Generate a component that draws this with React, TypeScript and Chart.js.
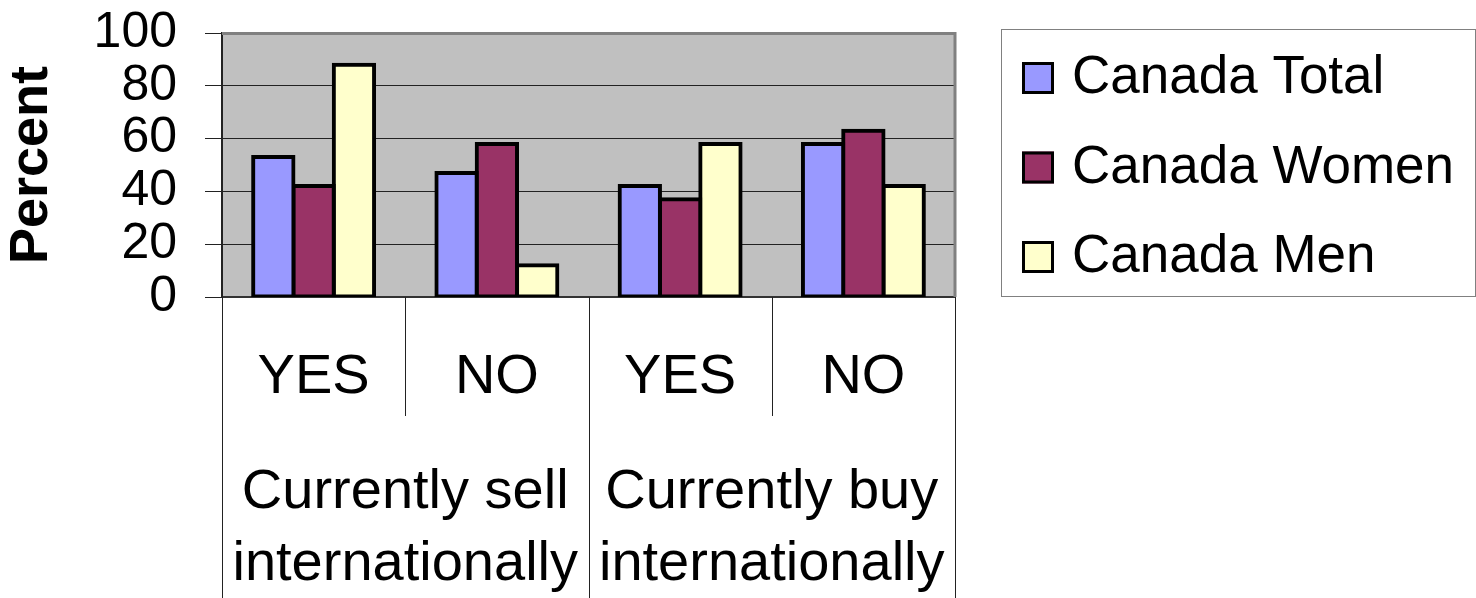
import React, { useEffect, useRef } from "react";
import { Chart, registerables } from "chart.js";

Chart.register(...registerables);

// ---------- data ----------
const categories = ["YES", "NO", "YES", "NO"];
const groupLabels = [
  ["Currently sell", "internationally"],
  ["Currently buy", "internationally"],
];
const groupSizes = [2, 2];
const seriesNames = ["Canada Total", "Canada Women", "Canada Men"];
const canadaTotal = [53, 47, 42, 58];
const canadaWomen = [42, 58, 37, 63];
const canadaMen = [88, 12, 58, 42];
const seriesColors = ["#9999FF", "#993366", "#FFFFCC"];
const yTickValues = [0, 20, 40, 60, 80, 100];
const yTitle = "Percent";

const FONT = "'Liberation Sans', Arial, Helvetica, sans-serif";

const plotBackground = {
  id: "plotBackground",
  beforeDraw(chart: any) {
    const { ctx, chartArea } = chart;
    ctx.save();
    ctx.fillStyle = "#C0C0C0";
    ctx.fillRect(chartArea.left, chartArea.top, chartArea.right - chartArea.left, chartArea.bottom - chartArea.top);
    ctx.restore();
  },
};

const plotFrame = {
  id: "plotFrame",
  afterDatasetsDraw(chart: any) {
    const { ctx, chartArea } = chart;
    ctx.save();
    ctx.strokeStyle = "#808080";
    ctx.lineWidth = 3;
    ctx.beginPath();
    ctx.moveTo(chartArea.left, chartArea.top + 0.5);
    ctx.lineTo(chartArea.right, chartArea.top + 0.5);
    ctx.lineTo(chartArea.right, chartArea.bottom);
    ctx.stroke();
    ctx.restore();
  },
};

const multiLevelAxis = {
  id: "multiLevelAxis",
  afterDraw(chart: any) {
    const { ctx, chartArea } = chart;
    const xs = chart.scales.x;
    const n = categories.length;
    const w = (xs.right - xs.left) / n;
    const bottom = chartArea.bottom;
    const groupBounds: number[] = [0];
    let acc = 0;
    groupSizes.forEach((s) => {
      acc += s;
      groupBounds.push(acc);
    });
    ctx.save();
    ctx.strokeStyle = "#222";
    ctx.lineWidth = 1;
    for (let i = 0; i <= n; i++) {
      const px = Math.round(xs.left + i * w) + 0.5;
      const isGroup = groupBounds.includes(i);
      ctx.beginPath();
      ctx.moveTo(px, bottom);
      ctx.lineTo(px, isGroup ? chart.height : bottom + 119);
      ctx.stroke();
    }
    ctx.fillStyle = "#000";
    ctx.textAlign = "center";
    ctx.textBaseline = "alphabetic";
    ctx.font = `56px ${FONT}`;
    categories.forEach((c, i) => {
      ctx.fillText(c, xs.getPixelForValue(i), bottom + 96);
    });
    let start = 0;
    groupLabels.forEach((lines, g) => {
      const center = xs.left + (start + groupSizes[g] / 2) * w;
      lines.forEach((line, j) => {
        ctx.fillText(line, center, bottom + 211 + j * 72);
      });
      start += groupSizes[g];
    });
    ctx.restore();
  },
};

const boxLegend = {
  id: "boxLegend",
  afterDraw(chart: any) {
    const { ctx } = chart;
    const left = 1001.5;
    const top = 29.5;
    const right = chart.width - 0.5;
    const bottom = 296.5;
    ctx.save();
    ctx.strokeStyle = "#808080";
    ctx.lineWidth = 1;
    ctx.strokeRect(left, top, right - left, bottom - top);
    ctx.font = `53px ${FONT}`;
    ctx.textAlign = "left";
    ctx.textBaseline = "alphabetic";
    chart.data.datasets.forEach((ds: any, i: number) => {
      const cy = top + 48.5 + i * 89.5;
      ctx.fillStyle = ds.backgroundColor;
      ctx.fillRect(1022, cy - 16, 32, 32);
      ctx.strokeStyle = "#000";
      ctx.lineWidth = 3;
      ctx.strokeRect(1023.5, cy - 14.5, 29, 29);
      ctx.fillStyle = "#000";
      ctx.fillText(ds.label, 1072, cy + 15);
    });
    ctx.restore();
  },
};

export default function App() {
  const canvasRef = useRef<HTMLCanvasElement | null>(null);

  useEffect(() => {
    document.body.style.margin = "0";
    document.body.style.overflow = "hidden";
    const canvas = canvasRef.current;
    if (!canvas) return;
    const seriesValues = [canadaTotal, canadaWomen, canadaMen];
    const chart = new Chart(canvas, {
      type: "bar",
      data: {
        labels: categories,
        datasets: seriesNames.map((name, i) => ({
          label: name,
          data: seriesValues[i],
          backgroundColor: seriesColors[i],
          borderColor: "#000",
          borderWidth: 4,
          borderSkipped: false,
          inflateAmount: 2,
          barPercentage: 1,
          categoryPercentage: 0.66,
        })),
      },
      options: {
        responsive: false,
        animation: false,
        events: [],
        layout: { padding: { left: 0, top: 33, right: 521, bottom: 0 } },
        plugins: {
          legend: { display: false },
          tooltip: { enabled: false },
          title: { display: false },
        },
        scales: {
          x: {
            grid: { display: false },
            ticks: { display: false },
            border: { display: true, color: "#333", width: 2 },
            afterFit: (s: any) => {
              s.height = 301;
              s.paddingLeft = 0;
              s.paddingRight = 0;
            },
          },
          y: {
            min: 0,
            max: 100,
            afterBuildTicks: (s: any) => {
              s.ticks = yTickValues.map((v) => ({ value: v }));
            },
            ticks: {
              font: { size: 50, family: FONT, lineHeight: 1 },
              color: "#000",
              padding: 28,
              autoSkip: false,
            },
            grid: { color: "#222", lineWidth: 1, tickLength: 17, drawTicks: true },
            border: { display: true, color: "#222", width: 2 },
            title: {
              display: true,
              text: yTitle,
              color: "#000",
              font: { size: 54, weight: "bold", family: FONT },
              padding: { top: 0, bottom: 0 },
            },
            afterFit: (s: any) => {
              s.width = 222;
              s.paddingTop = 0;
              s.paddingBottom = 0;
            },
          },
        },
      },
      plugins: [plotBackground, plotFrame, multiLevelAxis, boxLegend],
    } as any);
    return () => chart.destroy();
  }, []);

  return (
    <canvas
      ref={canvasRef}
      width={1476}
      height={598}
      style={{ display: "block", width: "1476px", height: "598px" }}
    />
  );
}
